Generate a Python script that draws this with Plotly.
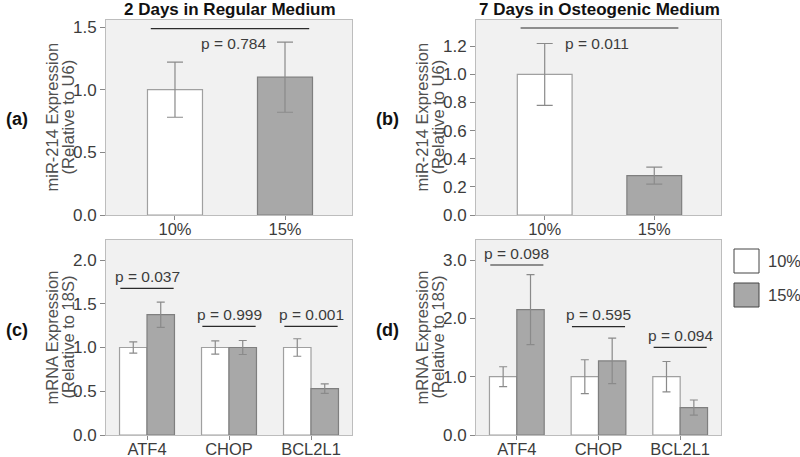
import plotly.graph_objects as go

# ---------------- data ----------------
groups = ["10%", "15%"]
genes = ["ATF4", "CHOP", "BCL2L1"]

# (a) 2 days, regular medium, miR-214
a_vals = [1.00, 1.10]
a_err = [0.22, 0.28]
a_p = "p = 0.784"
a_bracket = 1.487

# (b) 7 days, osteogenic medium, miR-214
b_vals = [1.00, 0.28]
b_err = [0.22, 0.06]
b_p = "p = 0.011"
b_bracket = 1.33

# (c) 2 days, mRNA
c_10 = [1.00, 1.00, 1.00]
c_10_err = [0.065, 0.075, 0.10]
c_15 = [1.375, 1.00, 0.53]
c_15_err = [0.145, 0.08, 0.055]
c_p = ["p = 0.037", "p = 0.999", "p = 0.001"]
c_bracket = [1.676, 1.242, 1.242]

# (d) 7 days, mRNA
d_10 = [1.00, 1.00, 1.00]
d_10_err = [0.17, 0.29, 0.26]
d_15 = [2.15, 1.27, 0.47]
d_15_err = [0.60, 0.39, 0.13]
d_p = ["p = 0.098", "p = 0.595", "p = 0.094"]
d_bracket = [2.914, 1.857, 1.503]

# ---------------- styles ----------------
FONT = "Liberation Sans, Arial, sans-serif"
W, H = 800, 457
WHITE = "#ffffff"
GRAY = "#a8a8a8"
WHITE_LINE = "#a0a0a0"
GRAY_LINE = "#7f7f7f"
ERR = "#8a8a8a"
TICK = "#3c3c3c"
BG = "#f1f1f1"
BORDER = "#bdbdbd"

def px_x(p):
    return p / W

def px_y(p):
    return 1 - p / H

fig = go.Figure()

# top panels: single bar per category
for vals, err, ax in [(a_vals, a_err, ""), (b_vals, b_err, "2")]:
    fig.add_trace(go.Bar(
        x=groups, y=vals, width=0.5,
        marker=dict(color=[WHITE, GRAY], line=dict(color=[WHITE_LINE, GRAY_LINE], width=1.2)),
        error_y=dict(type="data", array=err, color=ERR, thickness=1.2, width=8),
        xaxis="x" + ax, yaxis="y" + ax, showlegend=False,
    ))

# bottom panels: grouped bars
BW = 0.335
for v10, e10, v15, e15, ax in [(c_10, c_10_err, c_15, c_15_err, "3"),
                               (d_10, d_10_err, d_15, d_15_err, "4")]:
    fig.add_trace(go.Bar(
        x=genes, y=v10, width=BW, offset=-BW, name="10%",
        marker=dict(color=WHITE, line=dict(color=WHITE_LINE, width=1.2)),
        error_y=dict(type="data", array=e10, color=ERR, thickness=1.2, width=4),
        xaxis="x" + ax, yaxis="y" + ax, showlegend=False,
    ))
    fig.add_trace(go.Bar(
        x=genes, y=v15, width=BW, offset=0, name="15%",
        marker=dict(color=GRAY, line=dict(color=GRAY_LINE, width=1.2)),
        error_y=dict(type="data", array=e15, color=ERR, thickness=1.2, width=4),
        xaxis="x" + ax, yaxis="y" + ax, showlegend=False,
    ))

shapes = []
annotations = []

# p-value brackets, top panels
for ax, yb, ptxt, tx in [("", a_bracket, a_p, 0.53), ("2", b_bracket, b_p, 0.48)]:
    shapes.append(dict(type="line", xref="x" + ax, yref="y" + ax,
                       x0=-0.22, x1=1.22, y0=yb, y1=yb,
                       line=dict(color="#2a2a2a", width=1.2)))
    annotations.append(dict(xref="x" + ax, yref="y" + ax, x=tx, y=yb, yshift=-15,
                            text=ptxt, showarrow=False, xanchor="center", yanchor="middle",
                            font=dict(family=FONT, size=15.5, color=TICK)))

# p-value brackets, bottom panels
for ax, ybs, ptxts in [("3", c_bracket, c_p), ("4", d_bracket, d_p)]:
    for i, (yb, ptxt) in enumerate(zip(ybs, ptxts)):
        shapes.append(dict(type="line", xref="x" + ax, yref="y" + ax,
                           x0=i - BW + 0.01, x1=i + BW - 0.01, y0=yb, y1=yb,
                           line=dict(color="#2a2a2a", width=1.2)))
        annotations.append(dict(xref="x" + ax, yref="y" + ax, x=i, y=yb, yshift=12,
                                text=ptxt, showarrow=False, xanchor="center", yanchor="middle",
                                font=dict(family=FONT, size=15.5, color=TICK)))

# titles
for txt, cx in [("2 Days in Regular Medium", 230), ("7 Days in Osteogenic Medium", 599)]:
    annotations.append(dict(xref="paper", yref="paper", x=px_x(cx), y=px_y(9),
                            text="<b>%s</b>" % txt, showarrow=False,
                            xanchor="center", yanchor="middle",
                            font=dict(family=FONT, size=17, color="#111111")))

# panel labels
for txt, cx, cy in [("(a)", 17, 119), ("(b)", 387, 119), ("(c)", 17, 330), ("(d)", 387, 330)]:
    annotations.append(dict(xref="paper", yref="paper", x=px_x(cx), y=px_y(cy),
                            text="<b>%s</b>" % txt, showarrow=False,
                            xanchor="center", yanchor="middle",
                            font=dict(family=FONT, size=18, color="#111111")))

# y-axis titles (two lines each)
ytitles = [
    ("miR-214 Expression", "(Relative to U6)", 0, 117.5),
    ("miR-214 Expression", "(Relative to U6)", 370, 117.5),
    ("mRNA Expression", "(Relative to 18S)", 0, 337.5),
    ("mRNA Expression", "(Relative to 18S)", 370, 337.5),
]
for l1, l2, dx, cy in ytitles:
    for txt, cx in [(l1, 51 + dx), (l2, 67 + dx)]:
        annotations.append(dict(xref="paper", yref="paper", x=px_x(cx), y=px_y(cy),
                                text=txt, showarrow=False, textangle=-90,
                                xanchor="center", yanchor="middle",
                                font=dict(family=FONT, size=16.5, color="#505050")))

# legend boxes
for lab, col, lcol, top, bot in [("10%", WHITE, "#444444", 249, 273), ("15%", GRAY, "#444444", 283, 307)]:
    shapes.append(dict(type="rect", xref="paper", yref="paper",
                       x0=px_x(734), x1=px_x(759), y0=px_y(bot), y1=px_y(top),
                       fillcolor=col, line=dict(color=lcol, width=1)))
    annotations.append(dict(xref="paper", yref="paper", x=px_x(766), y=px_y((top + bot) / 2),
                            text=lab, showarrow=False, xanchor="left", yanchor="middle",
                            font=dict(family=FONT, size=16.5, color=TICK)))

xa_common = dict(showline=True, mirror=True, linecolor=BORDER, linewidth=1,
                 ticks="outside", ticklen=4, tickcolor="#888888",
                 tickfont=dict(family=FONT, size=16.5, color=TICK), ticklabelstandoff=-5,
                 showgrid=False, zeroline=False, fixedrange=True, automargin=False)
ya_common = dict(showline=True, mirror=True, linecolor=BORDER, linewidth=1,
                 ticks="outside", ticklen=5, tickcolor="#888888",
                 tickfont=dict(family=FONT, size=17, color=TICK), tickformat=".1f",
                 showgrid=False, zeroline=False, fixedrange=True, automargin=False)

dom_left = [px_x(106), px_x(352)]
dom_right = [px_x(476), px_x(721)]
dom_top = [px_y(215), px_y(20)]
dom_bot = [px_y(435), px_y(240)]

fig.update_layout(
    width=W, height=H, autosize=False,
    margin=dict(l=0, r=0, t=0, b=0, pad=0, autoexpand=False),
    paper_bgcolor="white", plot_bgcolor=BG,
    barmode="group", showlegend=False,
    font=dict(family=FONT, color=TICK),
    xaxis=dict(domain=dom_left, anchor="y", range=[-0.627, 1.609], **xa_common),
    yaxis=dict(domain=dom_top, anchor="x", range=[0, 1.556], dtick=0.5, **ya_common),
    xaxis2=dict(domain=dom_right, anchor="y2", range=[-0.627, 1.609], **xa_common),
    yaxis2=dict(domain=dom_top, anchor="x2", range=[0, 1.387], dtick=0.2, **ya_common),
    xaxis3=dict(domain=dom_left, anchor="y3", range=[-0.5, 2.5], **xa_common),
    yaxis3=dict(domain=dom_bot, anchor="x3", range=[0, 2.229], dtick=0.5, **ya_common),
    xaxis4=dict(domain=dom_right, anchor="y4", range=[-0.5, 2.5], **xa_common),
    yaxis4=dict(domain=dom_bot, anchor="x4", range=[0, 3.343], dtick=1.0, **ya_common),
    shapes=shapes, annotations=annotations,
)

fig.write_html(
    "out.html",
    config={"displayModeBar": False},
    post_script="document.body.style.margin='0';document.body.style.overflow='hidden';",
)
